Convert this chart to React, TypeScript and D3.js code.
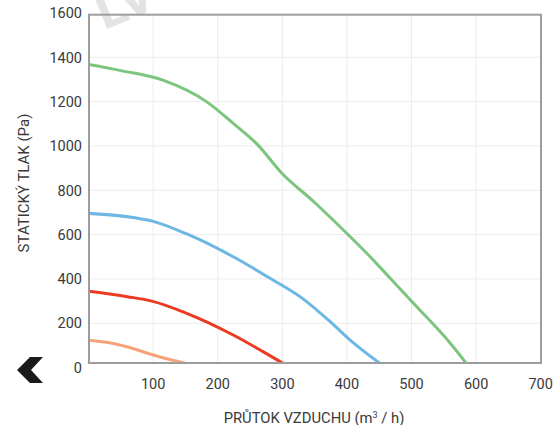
import React from "react";
import * as d3 from "d3";

const xTicks = [100, 200, 300, 400, 500, 600, 700];
const yTicks = [0, 200, 400, 600, 800, 1000, 1200, 1400, 1600];

const greenCurve: [number, number][] = [
  [0, 1368], [50, 1340], [115, 1297], [183, 1199], [224, 1102], [262, 1005],
  [297, 884], [350, 745], [400, 605], [431, 515], [467, 403], [503, 290],
  [560, 110], [590, 0],
];
const blueCurve: [number, number][] = [
  [0, 696], [72, 676], [100, 660], [152, 603], [224, 500], [281, 403],
  [333, 308], [374, 207], [405, 124], [460, 0],
];
const redCurve: [number, number][] = [
  [0, 345], [60, 320], [98, 300], [152, 245], [224, 147], [270, 72], [312, 0],
];
const orangeCurve: [number, number][] = [
  [0, 124], [30, 113], [59, 94], [100, 57], [135, 30], [178, 0],
];

const series = [
  { name: "green", color: "#7cc57e", data: greenCurve },
  { name: "blue", color: "#6cb7e4", data: blueCurve },
  { name: "red", color: "#ec3a22", data: redCurve },
  { name: "orange", color: "#f5a27a", data: orangeCurve },
];

const W = 558;
const H = 425;
const left = 89;
const right = 541;
const top = 14.7;
const bottom = 363;

export default function App() {
  const x = d3.scaleLinear().domain([0, 700]).range([88.6, 540.7]);
  const y = d3.scaleLinear().domain([0, 1600]).range([367.6, 13.0]);
  const line = d3
    .line<[number, number]>()
    .x((d) => x(d[0]))
    .y((d) => y(d[1]))
    .curve(d3.curveMonotoneX);
  const font = "Roboto, 'DejaVu Sans', sans-serif";
  return (
    <div style={{ position: "absolute", left: 0, top: 0 }}>
      <svg width={W} height={H} viewBox={`0 0 ${W} ${H}`} style={{ display: "block", background: "#fff" }}>
        <defs>
          <clipPath id="plotClip">
            <rect x={left} y={top} width={right - left} height={bottom - top} />
          </clipPath>
        </defs>
        {/* watermark */}
        <text
          x={104}
          y={30}
          transform="rotate(-22 104 30)"
          fontFamily={font}
          fontWeight={700}
          fontSize={54}
          fill="#e3e3e3"
        >
          LV
        </text>
        {/* grid */}
        {xTicks.slice(0, -1).map((t) => (
          <line key={"gx" + t} x1={x(t)} x2={x(t)} y1={top} y2={bottom} stroke="#ececec" strokeWidth={1} />
        ))}
        {yTicks.slice(1, -1).map((t) => (
          <line key={"gy" + t} x1={left} x2={right} y1={y(t)} y2={y(t)} stroke="#ececec" strokeWidth={1} />
        ))}
        {/* curves */}
        <g clipPath="url(#plotClip)">
          {series.map((s) => (
            <path key={s.name} d={line(s.data) || ""} fill="none" stroke={s.color} strokeWidth={3} strokeLinejoin="round" />
          ))}
        </g>
        {/* frame */}
        <rect x={left} y={top} width={right - left} height={bottom - top} fill="none" stroke="#9d9d9f" strokeWidth={2} />
        {/* y tick labels */}
        {yTicks.map((t) => (
          <text
            key={"yl" + t}
            x={82}
            y={y(t)}
            dy="0.36em"
            textAnchor="end"
            fontFamily={font}
            fontSize={14.5}
            fill="#3a3a3a"
          >
            {t}
          </text>
        ))}
        {/* x tick labels */}
        {xTicks.map((t) => (
          <text
            key={"xl" + t}
            x={x(t)}
            y={383.5}
            dy="0.36em"
            textAnchor="middle"
            fontFamily={font}
            fontSize={14.5}
            fill="#3a3a3a"
          >
            {t}
          </text>
        ))}
        {/* axis titles */}
        <text
          x={314}
          y={418}
          dy="0.36em"
          textAnchor="middle"
          fontFamily={font}
          fontSize={14.8}
          fill="#3a3a3a"
        >
          PRŮTOK VZDUCHU (m<tspan dy="-5" fontSize={9}>3</tspan>
          <tspan dy="5"> / h)</tspan>
        </text>
        <text
          transform="translate(24 183) rotate(-90)"
          dy="0.36em"
          textAnchor="middle"
          fontFamily={font}
          fontSize={15}
          fill="#3a3a3a"
        >
          STATICKÝ TLAK (Pa)
        </text>
        {/* chevron */}
        <path d="M 43 357 L 31 370 L 43 383 L 30 383 L 17 370 L 30 357 Z" fill="#1a1a1a" />
      </svg>
    </div>
  );
}
